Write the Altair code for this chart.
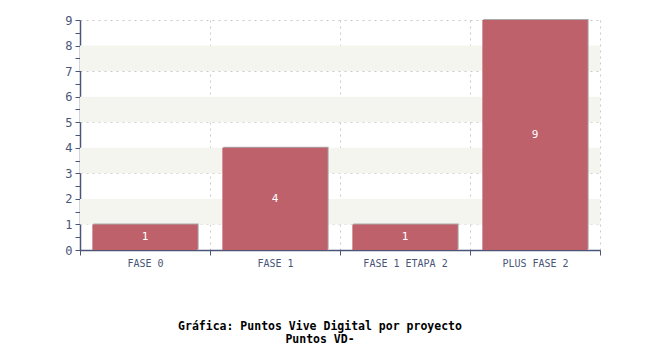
import altair as alt
import pandas as pd

categories = ["FASE 0", "FASE 1", "FASE 1 ETAPA 2", "PLUS FASE 2"]
values = [1, 4, 1, 9]
band_start = [1, 3, 5, 7]
band_end = [2, 4, 6, 8]

df = pd.DataFrame({"cat": categories, "val": values})
bands = pd.DataFrame({"y0": band_start, "y1": band_end})

FONT = "DejaVu Sans Mono"
AXIS_COLOR = "#4a5578"

xscale = alt.Scale(domain=categories, paddingInner=0, paddingOuter=0)
yscale = alt.Scale(domain=[0, 9], nice=False)

x_axis = alt.Axis(
    title=None, tickBand="extent", grid=True, gridDash=[2, 4], gridColor="#c8c8c8",
    domainColor=AXIS_COLOR, tickColor=AXIS_COLOR, labelColor=AXIS_COLOR,
    labelFont=FONT, labelFontSize=10, labelAngle=0, tickSize=5, labelPadding=3,
    domainWidth=1.5,
)
y_axis = alt.Axis(
    title=None, values=[i / 2 for i in range(19)],
    labelExpr="datum.value % 1 == 0 ? format(datum.value, 'd') : ''",
    labelOverlap=False,
    grid=True, gridDash=[2, 4], gridColor="#c8c8c8",
    gridOpacity={"condition": {"test": "datum.value % 1 != 0", "value": 0}, "value": 1},
    domainColor=AXIS_COLOR, tickColor=AXIS_COLOR, labelColor=AXIS_COLOR,
    labelFont=FONT, labelFontSize=12, tickSize=5, labelPadding=3, domainWidth=1.5,
)

shade = alt.Chart(bands).mark_rect(color="#f5f5f0").encode(
    y=alt.Y("y0:Q", scale=yscale, axis=y_axis),
    y2="y1:Q",
)

shadow = alt.Chart(df).mark_bar(
    color="#aaaaaa", width=alt.RelativeBandSize(0.81), xOffset=1, yOffset=-1
).encode(
    x=alt.X("cat:N", scale=xscale, sort=categories, axis=x_axis),
    y=alt.Y("val:Q", scale=yscale, axis=y_axis),
)

bars = alt.Chart(df).mark_bar(
    color="#bf616b", width=alt.RelativeBandSize(0.81)
).encode(
    x=alt.X("cat:N", scale=xscale, sort=categories, axis=x_axis),
    y=alt.Y("val:Q", scale=yscale, axis=y_axis),
)

labels = alt.Chart(df).mark_text(
    color="white", font=FONT, fontSize=11, baseline="middle"
).encode(
    x=alt.X("cat:N", scale=xscale, sort=categories, axis=x_axis),
    y=alt.Y("mid:Q", scale=yscale, axis=y_axis),
    text="val:Q",
).transform_calculate(mid="datum.val / 2")

chart = alt.layer(shade, shadow, bars, labels).properties(
    width=520, height=230,
    padding={"left": 80, "top": 20, "right": 50, "bottom": 100},
    autosize=alt.AutoSizeParams(type="none"),
    title=alt.TitleParams(
        text=["Gráfica: Puntos Vive Digital por proyecto", "Puntos VD-"],
        orient="bottom", anchor="middle", font=FONT, fontSize=11.5, fontWeight="bold",
        color="#000000", offset=53, dx=-20, lineHeight=13,
    ),
).configure_view(stroke=None)

chart.save("out.html", embed_options={"renderer": "svg", "actions": False})
